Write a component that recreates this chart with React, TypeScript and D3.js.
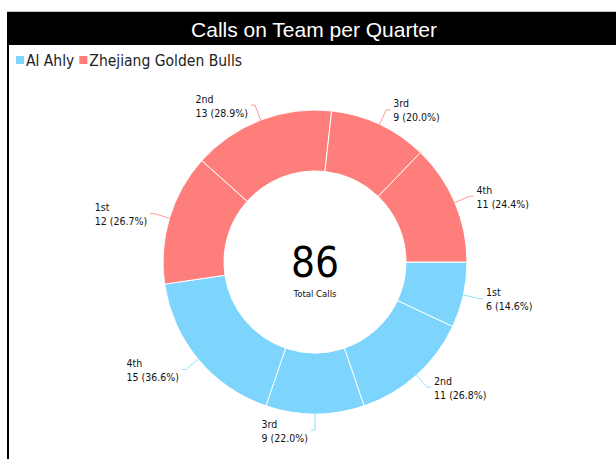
import * as d3 from "d3";
import { useEffect, useRef } from "react";

const title = "Calls on Team per Quarter";
const teams = ["Al Ahly", "Zhejiang Golden Bulls"];
const teamColors = ["#7dd5fd", "#fe7e7b"];
const quarters = ["1st", "2nd", "3rd", "4th"];
const alAhly = [6, 11, 9, 15];
const zhejiang = [12, 13, 9, 11];
const centerLabel = "Total Calls";

type Slice = { team: number; quarter: string; value: number; pct: number };

export default function App() {
  const ref = useRef<SVGSVGElement>(null);

  useEffect(() => {
    const width = 616;
    const height = 459;
    const cx = 315;
    const cy = 262;
    const outer = 152;
    const inner = 91;
    const font = "'DejaVu Sans Condensed', 'DejaVu Sans', Verdana, sans-serif";

    const svg = d3.select(ref.current).attr("width", width).attr("height", height);
    svg.selectAll("*").remove();

    // frame + title bar
    svg.append("rect").attr("x", 7).attr("y", 11).attr("width", 620).attr("height", 1).attr("fill", "#c8c8c8");
    svg.append("rect").attr("x", 7).attr("y", 12).attr("width", 620).attr("height", 33).attr("fill", "#000");
    svg.append("rect").attr("x", 7).attr("y", 45).attr("width", 2).attr("height", height - 45).attr("fill", "#000");
    svg
      .append("text")
      .attr("x", 314)
      .attr("y", 37)
      .attr("text-anchor", "middle")
      .attr("fill", "#fff")
      .style("font-family", "'Liberation Sans', Arial, sans-serif")
      .style("font-size", "21px")
      .text(title);

    const styled = (t: d3.Selection<SVGTextElement, unknown, null, undefined>, size: number) =>
      t.style("font-family", font).style("font-stretch", "condensed").style("font-size", `${size}px`);

    // legend
    const legend = svg.append("g").attr("transform", "translate(16,0)");
    let lx = 0;
    teams.forEach((t, i) => {
      legend.append("rect").attr("x", lx).attr("y", 56).attr("width", 8).attr("height", 8).attr("fill", teamColors[i]);
      const txt = styled(legend.append("text") as any, 15.5)
        .attr("x", lx + 10)
        .attr("y", 66)
        .attr("fill", "#222")
        .text(t);
      lx += 10 + (txt.node() as SVGTextElement).getComputedTextLength() + 5;
    });

    // data
    const series = [alAhly, zhejiang];
    const slices: Slice[] = [];
    series.forEach((vals, ti) => {
      const sum = d3.sum(vals);
      vals.forEach((v, qi) => slices.push({ team: ti, quarter: quarters[qi], value: v, pct: v / sum }));
    });
    const total = d3.sum(slices, (d) => d.value);

    const pie = d3
      .pie<Slice>()
      .value((d) => d.value)
      .sort(null)
      .startAngle(Math.PI / 2)
      .endAngle(Math.PI / 2 + 2 * Math.PI);
    const arcs = pie(slices);
    const arc = d3.arc<d3.PieArcDatum<Slice>>().innerRadius(inner).outerRadius(outer);

    const g = svg.append("g").attr("transform", `translate(${cx},${cy})`);
    g.selectAll("path")
      .data(arcs)
      .enter()
      .append("path")
      .attr("d", arc)
      .attr("fill", (d) => teamColors[d.data.team])
      .attr("stroke", "#fff")
      .attr("stroke-width", 1);

    // labels
    arcs.forEach((d) => {
      const mid = (d.startAngle + d.endAngle) / 2;
      const sx = Math.sin(mid);
      const sy = -Math.cos(mid);
      const right = sx > 1e-9;
      const p0 = [sx * outer, sy * outer];
      const p1 = [sx * (outer + 16), sy * (outer + 16)];
      const p2 = [p1[0] + (right ? 4 : -4), p1[1]];
      g.append("polyline")
        .attr("points", [p0, p1, p2].map((p) => p.join(",")).join(" "))
        .attr("fill", "none")
        .attr("stroke", teamColors[d.data.team])
        .attr("stroke-opacity", 0.8)
        .attr("stroke-width", 1);

      const lines = [d.data.quarter, `${d.data.value} (${(d.data.pct * 100).toFixed(1)}%)`];
      const tg = g.append("g");
      const texts = lines.map((s, i) =>
        styled(tg.append("text") as any, 10.5)
          .attr("y", p2[1] + (i === 0 ? -2.5 : 11.5))
          .attr("fill", "#111")
          .text(s)
      );
      const w = d3.max(texts, (t: any) => (t.node() as SVGTextElement).getComputedTextLength()) || 0;
      const x0 = right ? p2[0] + 3 : p2[0] - 3 - w;
      texts.forEach((t: any) => t.attr("x", x0));
    });

    // center
    styled(g.append("text") as any, 42)
      .attr("y", 15)
      .attr("text-anchor", "middle")
      .attr("fill", "#000")
      .text(String(total));
    styled(g.append("text") as any, 9.5)
      .attr("y", 35)
      .attr("text-anchor", "middle")
      .attr("fill", "#111")
      .text(centerLabel);
  }, []);

  return (
    <svg
      ref={ref}
      style={{ position: "absolute", left: 0, top: 0, display: "block", background: "#fff" }}
    />
  );
}
